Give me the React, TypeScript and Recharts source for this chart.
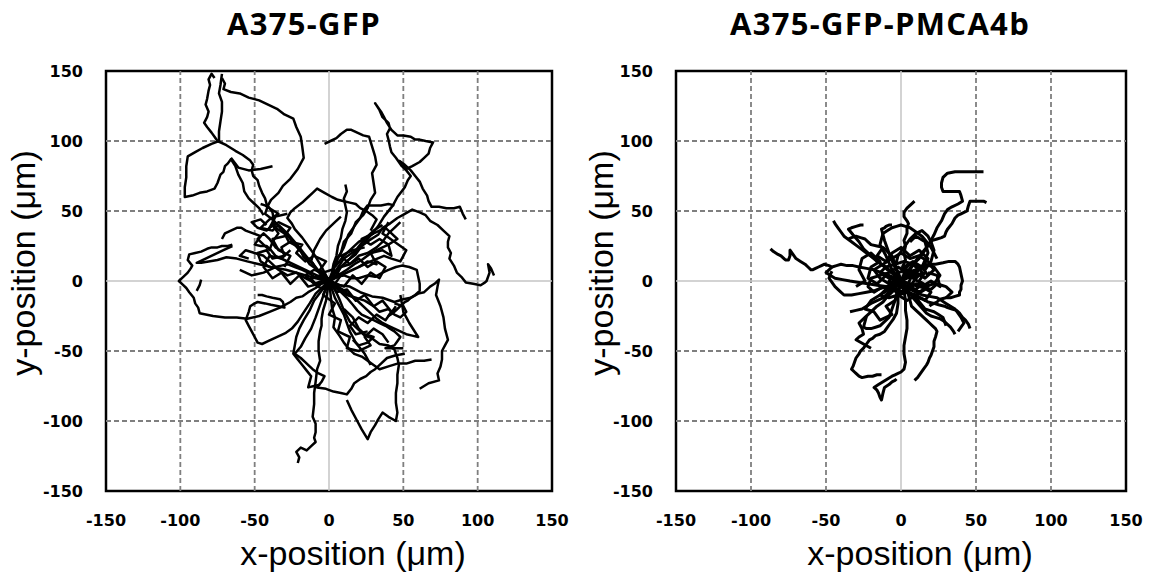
import React from 'react';
import { LineChart, Line, XAxis, YAxis, ReferenceLine, ReferenceArea } from 'recharts';

type Pt = [number, number];

const axisTicks = [-150, -100, -50, 0, 50, 100, 150];
const gridTicks = [-100, -50, 50, 100];
const panelTitles = ['A375-GFP', 'A375-GFP-PMCA4b'];
const xLabel = 'x-position (μm)';
const yLabel = 'y-position (μm)';

// A375-GFP tracks (x, y in µm)
const gfp01: Pt[] = [[0,0],[-3,5],[-8,7],[-11,13],[-17,17],[-20,24],[-27,28],[-30,34],[-36,38],[-38,44],[-43,48],[-41,54],[-39,58],[-34,63],[-31,68],[-26,73],[-21,80],[-17,88],[-18,96],[-19,103],[-22,110],[-24,116],[-30,119],[-35,123],[-41,126],[-47,129],[-54,131],[-60,134],[-66,135],[-71,137],[-70,141],[-72,145]];
const gfp02: Pt[] = [[-44,47],[-47,52],[-50,55],[-54,59],[-57,64],[-58,70],[-61,76],[-63,82],[-66,87],[-68,84],[-70,82],[-71,78],[-73,76],[-75,70],[-77,66],[-82,64],[-87,63],[-92,61],[-97,60],[-97,67],[-96,74],[-96,82],[-95,89],[-90,92],[-85,95],[-79,98],[-74,100],[-74,107],[-73,114],[-72,121],[-72,128],[-74,134],[-73,140],[-72,148]];
const gfp03: Pt[] = [[0,0],[-4,3],[-9,9],[-13,12],[-19,21],[-23,26],[-29,34],[-33,38],[-37,43],[-38,49],[-42,55],[-43,59],[-45,63],[-47,68],[-48,72],[-51,75],[-52,79],[-51,83],[-53,86],[-58,90],[-63,93],[-69,97],[-75,100],[-77,103],[-79,106],[-82,110],[-84,113],[-82,117],[-81,121],[-83,126],[-82,130],[-81,136],[-80,140],[-81,144],[-79,148],[-77,145]];
const gfp04: Pt[] = [[-66,88],[-61,81],[-54,79],[-46,80],[-38,82]];
const gfp05: Pt[] = [[0,0],[3,6],[4,14],[8,20],[10,28],[15,34],[18,42],[23,47],[26,52],[28,58],[31,63],[30,70],[29,77],[32,83],[31,89],[29,96],[27,103],[23,104],[19,106],[15,108],[12,108],[8,105],[5,102],[1,100],[-3,98]];
const gfp06: Pt[] = [[0,0],[4,6],[9,11],[14,16],[21,24],[26,30],[33,39],[37,46],[43,54],[46,60],[51,67],[53,72],[55,75],[52,79],[49,82],[47,85],[45,88],[42,92],[41,96],[40,101],[39,105],[41,109],[40,113],[36,117],[34,122],[31,127],[33,124],[35,121],[37,117],[39,113],[42,108],[46,104],[50,104],[55,103],[58,101],[61,101],[65,100],[70,99],[68,95],[67,91],[64,88],[61,85],[56,82],[52,80],[49,83],[47,86]];
const gfp07: Pt[] = [[47,86],[51,83],[55,79],[58,75],[61,71],[63,66],[66,61],[67,57],[69,53],[74,53],[79,52],[84,52],[88,53],[90,48],[92,44]];
const gfp08: Pt[] = [[0,0],[5,4],[8,10],[13,15],[18,19],[22,25],[27,29],[33,33],[36,38],[41,41],[46,45],[51,48],[56,51],[61,49],[65,47],[68,43],[73,40],[77,36],[81,32],[80,28],[80,24],[82,20],[81,16],[84,11],[86,6],[89,3],[92,-1],[97,-2],[102,-3],[105,-1],[106,0],[108,6],[107,12],[109,9],[111,4]];
const gfp09: Pt[] = [[0,0],[-1,-7],[-2,-14],[-4,-21],[-5,-27],[-5,-32],[-6,-36],[-7,-43],[-7,-50],[-6,-57],[-8,-63],[-9,-72],[-10,-80],[-10,-88],[-11,-97],[-9,-102],[-9,-108],[-10,-112],[-9,-115],[-12,-118],[-15,-121],[-19,-119],[-22,-122],[-20,-126],[-21,-130]];
const gfp10: Pt[] = [[0,0],[4,-6],[7,-13],[10,-21],[14,-29],[18,-33],[24,-39],[29,-41],[34,-45],[40,-46],[44,-49],[46,-55],[47,-60],[46,-67],[46,-73],[45,-80],[45,-87],[46,-94],[45,-100],[40,-97],[36,-94],[33,-99],[31,-103],[28,-108],[26,-113],[22,-106],[19,-100],[15,-92],[12,-85]];
const gfp11: Pt[] = [[0,0],[7,-3],[14,-4],[21,-8],[29,-11],[36,-12],[44,-15],[50,-13],[55,-12],[60,-9],[64,-8],[68,-4],[71,-2],[74,1],[73,-4],[72,-10],[75,-18],[77,-26],[78,-34],[80,-42],[78,-46],[76,-50],[76,-56],[75,-61],[73,-66],[74,-71],[67,-73],[61,-77]];
const gfp12: Pt[] = [[0,0],[1,-9],[2,-19],[4,-26],[3,-33],[7,-39],[10,-44],[13,-48],[17,-52],[22,-54],[26,-57],[30,-60],[34,-63],[40,-61],[46,-59],[52,-59],[58,-57],[64,-57],[69,-56]];
const gfp13: Pt[] = [[0,0],[-5,-2],[-9,-5],[-14,-8],[-18,-11],[-22,-12],[-26,-15],[-33,-19],[-40,-22],[-47,-25],[-55,-27],[-62,-26],[-70,-26],[-78,-25],[-87,-23],[-88,-19],[-90,-16],[-91,-12],[-94,-8],[-96,-5],[-98,-3],[-101,0],[-98,3],[-95,6],[-93,9],[-92,11],[-95,15],[-94,19],[-90,20],[-86,21],[-82,23],[-79,24],[-75,24],[-72,25],[-68,25],[-65,26]];
const gfp14: Pt[] = [[-86,1],[-87,-3],[-89,-7]];
const gfp15: Pt[] = [[0,0],[-4,-4],[-9,-9],[-13,-16],[-18,-24],[-21,-29],[-25,-34],[-29,-37],[-33,-39],[-37,-41],[-41,-43],[-45,-45],[-48,-44],[-50,-40],[-52,-36],[-54,-32],[-56,-28],[-54,-22],[-53,-18],[-50,-16],[-48,-15],[-43,-16],[-39,-17],[-34,-18],[-30,-19],[-31,-15],[-33,-13],[-38,-12],[-42,-11],[-45,-10],[-48,-10]];
const gfp16: Pt[] = [[0,0],[-3,-8],[-6,-17],[-9,-26],[-12,-34],[-16,-41],[-19,-47],[-23,-52],[-19,-55],[-16,-58],[-13,-61],[-11,-63],[-7,-66],[-3,-68],[-5,-72],[-8,-76],[-2,-77],[3,-79],[8,-80],[12,-81],[15,-77],[17,-73],[21,-70],[25,-68],[28,-65],[31,-63],[35,-59],[39,-55],[45,-53],[51,-52]];
const gfp17: Pt[] = [[0,0],[2,6],[3,12],[5,18],[6,25],[8,31],[9,37],[11,43],[12,49],[11,54],[10,59],[12,64],[11,69]];
const gfp18: Pt[] = [[0,0],[3,8],[6,16],[10,24],[13,33],[17,39],[21,45],[23,50],[26,54],[31,54],[35,54],[40,55],[44,54]];
const gfp19: Pt[] = [[0,0],[-3,6],[-6,12],[-10,19],[-14,25],[-18,31],[-23,37],[-25,41],[-28,45],[-26,49],[-23,52],[-18,56],[-14,60],[-11,63],[-8,66],[-3,63],[2,60],[6,58],[10,57],[14,56],[18,55],[21,52],[25,50],[29,47],[32,44],[30,40],[28,36]];
const gfp20: Pt[] = [[0,0],[-6,3],[-12,6],[-18,9],[-24,12],[-30,15],[-36,18],[-39,22],[-42,25],[-46,25],[-50,26],[-48,29],[-46,32],[-51,34],[-56,36],[-59,38],[-62,38],[-66,36],[-70,34],[-72,30]];
const gfp21: Pt[] = [[0,0],[-9,2],[-19,5],[-29,8],[-39,10],[-47,12],[-55,14],[-62,16],[-69,17],[-75,15],[-81,14],[-86,13],[-89,13],[-83,16],[-77,19],[-71,22],[-65,25]];
const gfp22: Pt[] = [[0,0],[5,3],[10,4],[15,2],[20,2],[26,4],[31,3],[36,6],[40,8],[45,10],[49,11],[54,10],[59,8],[60,3],[61,-2],[61,-7],[58,-10],[55,-12],[53,-14],[51,-15],[48,-18],[46,-20],[43,-23],[40,-25],[43,-21],[45,-18]];
const gfp23: Pt[] = [[0,0],[4,-4],[8,-8],[12,-12],[16,-17],[19,-21],[22,-24],[26,-26],[30,-28],[34,-30],[38,-32],[41,-34],[44,-36],[46,-38],[48,-40],[46,-43],[44,-46],[41,-47],[38,-48],[44,-48],[50,-48]];
const gfp24: Pt[] = [[0,0],[-4,4],[-8,8],[-11,12],[-14,16],[-17,20],[-20,24],[-24,29],[-28,34],[-31,37],[-34,40],[-36,38],[-38,36],[-42,37],[-46,38],[-43,41],[-40,44],[-37,46],[-34,48],[-37,50],[-40,52],[-43,54],[-46,55]];
const gfp25: Pt[] = [[0,0],[6,4],[12,8],[17,12],[22,15],[27,19],[32,22],[36,24],[40,26],[43,28],[46,30],[42,34],[38,38],[34,36],[30,34],[25,31],[20,28],[15,23],[10,18],[7,14],[4,10]];
const gfp26: Pt[] = [[0,0],[-5,-7],[-10,-14],[-13,-21],[-17,-28],[-20,-34],[-22,-40],[-23,-46],[-24,-52],[-21,-56],[-18,-60],[-15,-64],[-12,-68],[-13,-72],[-14,-76],[-10,-75],[-6,-74]];
const gfp27: Pt[] = [[0,0],[7,-5],[14,-10],[20,-15],[26,-21],[31,-26],[36,-30],[40,-32],[44,-34],[48,-36],[52,-38],[56,-39],[60,-40],[57,-35],[54,-30],[52,-26],[50,-22],[49,-16],[48,-10]];
const gfp28: Pt[] = [[0,0],[10,5],[20,10],[28,14],[37,18],[42,16],[48,14],[50,18],[52,22],[48,25],[44,28],[40,31],[36,34],[38,38],[40,42]];
const gfp29: Pt[] = [[0,0],[-5,2],[-10,3],[-14,6],[-18,8],[-23,10],[-28,12],[-32,11],[-36,10],[-40,8],[-44,6],[-48,5],[-52,4],[-56,6],[-60,8]];
const gfp30: Pt[] = [[0,0],[5,8],[10,16],[14,19],[18,22],[21,26],[24,30],[27,33],[30,36],[33,38],[36,40]];
const gfp31: Pt[] = [[0,0],[2,-6],[4,-12],[7,-18],[10,-24],[12,-30],[14,-36],[16,-40],[18,-44],[21,-48],[24,-52],[26,-56],[28,-60]];
const gfp32: Pt[] = [[0,0],[-3,3],[-6,6],[-9,10],[-12,14],[-11,18],[-10,22],[-8,26],[-6,30],[-4,33],[-2,36],[1,39],[4,42],[6,44],[8,46]];
const gfp33: Pt[] = [[0,0],[-6,4],[-12,2],[-8,-4],[-2,-6],[4,-2],[8,4],[2,8],[-4,6],[-10,8],[-16,4],[-10,-2],[0,2],[6,-4],[12,-8]];
const gfp34: Pt[] = [[-30,20],[-36,24],[-40,30],[-44,34],[-48,30],[-44,26],[-40,22],[-38,28],[-34,34],[-38,40],[-42,36],[-48,38],[-52,42],[-46,44],[-42,40]];
const gfp35: Pt[] = [[0,0],[-8,-2],[-16,2],[-22,6],[-28,4],[-34,8],[-40,14],[-44,18],[-50,20],[-56,22],[-60,18],[-54,16]];
const gfp36: Pt[] = [[0,0],[6,-6],[12,-10],[18,-12],[24,-14],[30,-18],[34,-22],[40,-20],[44,-24],[48,-26],[52,-22],[50,-18],[44,-16]];
const gfp37: Pt[] = [[10,-20],[16,-26],[20,-34],[24,-38],[30,-40],[26,-44],[20,-46],[16,-42]];
const gfp38: Pt[] = [[0,0],[8,10],[14,12],[20,18],[26,20],[32,24],[36,28],[40,34],[44,38],[48,42]];
const gfp39: Pt[] = [[0,0],[5,-8],[12,-6],[18,-14],[24,-10],[30,-18],[36,-14],[42,-22],[38,-28],[32,-24],[26,-30],[20,-26],[14,-32],[18,-38],[26,-36]];
const gfp40: Pt[] = [[0,0],[-6,8],[-2,14],[-10,18],[-16,14],[-22,20],[-18,26],[-26,28],[-32,24],[-30,18],[-38,16],[-42,22],[-48,20],[-46,14],[-40,10]];
const gfp41: Pt[] = [[0,0],[10,-4],[16,4],[22,-2],[28,6],[34,2],[38,10],[32,14],[26,10],[20,16],[14,12],[8,18],[16,22],[24,24]];
const gfp42: Pt[] = [[0,0],[-4,-10],[4,-16],[0,-24],[8,-28],[6,-36],[14,-40],[12,-48],[20,-50],[28,-46],[24,-40],[30,-34],[36,-38],[40,-44]];
const gfp43: Pt[] = [[20,10],[26,14],[32,12],[28,20],[36,22],[42,18],[40,26],[34,30],[28,26],[22,30],[30,34]];
const gfp44: Pt[] = [[-30,10],[-26,18],[-34,22],[-38,30],[-30,32],[-26,38],[-34,42],[-40,38],[-36,46],[-28,48]];
const gfp45: Pt[] = [[0,0],[-14,-4],[-20,4],[-26,-2],[-32,6],[-38,2],[-44,10],[-40,18],[-32,16],[-26,22]];

// A375-GFP-PMCA4b tracks
const pmca01: Pt[] = [[0,0],[3,4],[6,8],[9,13],[12,16],[16,22],[19,27],[21,29],[24,30],[27,31],[29,32],[30,35],[31,37],[34,41],[36,45],[38,47],[40,48],[42,49],[44,50],[45,54],[46,57],[50,57],[55,57],[57,56]];
const pmca02: Pt[] = [[0,0],[4,6],[8,12],[11,16],[14,20],[17,24],[19,27],[22,33],[24,38],[27,43],[29,48],[31,51],[34,53],[38,55],[41,57],[40,61],[39,64],[34,64],[28,64],[27,67],[27,70],[28,74],[31,77],[36,78],[40,78],[44,78],[48,78],[52,78],[55,78]];
const pmca03: Pt[] = [[0,0],[2,5],[1,10],[3,15],[2,20],[3,25],[2,29],[4,34],[4,38],[5,41],[4,43],[2,46],[2,49],[4,52],[6,54],[8,56],[9,57]];
const pmca04: Pt[] = [[0,0],[-4,2],[-8,4],[-13,6],[-18,8],[-23,9],[-28,10],[-32,11],[-36,11],[-40,12],[-43,11],[-46,10],[-48,11],[-51,12],[-53,11],[-55,10],[-57,9],[-59,8],[-60,8],[-62,10],[-64,12],[-67,14],[-70,16],[-72,19],[-74,22],[-74,18],[-75,15],[-77,15],[-78,16],[-80,18],[-82,19],[-85,21],[-87,23]];
const pmca05: Pt[] = [[0,0],[-1,-5],[-2,-10],[-2,-16],[-3,-23],[-5,-27],[-7,-30],[-9,-33],[-11,-36],[-14,-38],[-17,-39],[-19,-41],[-21,-42],[-23,-45],[-25,-48],[-27,-50],[-28,-52],[-30,-55],[-31,-58],[-32,-61],[-33,-63],[-31,-65],[-30,-66],[-28,-68],[-26,-69],[-22,-68],[-19,-68],[-16,-67],[-13,-67]];
const pmca06: Pt[] = [[0,0],[2,-7],[3,-14],[3,-21],[4,-28],[4,-34],[3,-40],[2,-46],[2,-52],[3,-58],[2,-63],[0,-65],[-2,-66],[-4,-67],[-6,-68],[-9,-70],[-12,-72],[-15,-74],[-18,-76],[-16,-78],[-15,-80],[-14,-83],[-13,-85],[-12,-80],[-11,-76],[-8,-74],[-6,-72],[-4,-71],[-3,-70]];
const pmca07: Pt[] = [[0,0],[3,-5],[5,-10],[6,-14],[7,-18],[10,-21],[12,-23],[15,-26],[17,-28],[19,-30],[21,-32],[23,-34],[24,-36],[23,-40],[22,-43],[22,-47],[21,-50],[20,-53],[19,-55],[18,-58],[17,-60],[15,-63],[13,-66],[11,-69],[9,-71]];
const pmca08: Pt[] = [[0,0],[4,3],[8,6],[13,9],[19,12],[23,12],[28,13],[32,14],[36,14],[38,12],[39,10],[40,5],[41,0],[40,-3],[40,-6],[39,-8],[39,-10],[36,-11],[33,-12],[30,-12],[26,-13],[24,-15],[22,-16],[20,-17],[19,-18]];
const pmca09: Pt[] = [[0,0],[3,-5],[7,-10],[11,-12],[15,-13],[18,-15],[22,-16],[25,-17],[29,-18],[31,-19],[34,-20],[37,-21],[39,-23],[41,-26],[43,-28],[45,-31],[46,-34]];
const pmca10: Pt[] = [[0,0],[4,-6],[8,-12],[12,-17],[17,-23],[20,-25],[23,-26],[26,-27],[29,-29],[31,-31],[33,-33],[35,-36],[36,-38]];
const pmca11: Pt[] = [[0,0],[-4,4],[-9,8],[-13,12],[-18,16],[-23,20],[-28,24],[-33,28],[-38,32],[-40,35],[-42,38],[-44,41],[-45,43]];
const pmca12: Pt[] = [[0,0],[-5,5],[-10,10],[-16,14],[-21,19],[-25,23],[-28,28],[-32,33],[-35,37],[-33,38],[-30,39],[-27,40],[-25,40]];
const pmca13: Pt[] = [[0,0],[-2,6],[-5,12],[-8,20],[-11,29],[-12,33],[-13,37],[-11,38],[-10,39],[-8,40],[-6,40]];
const pmca14: Pt[] = [[0,0],[-4,-2],[-8,-4],[-13,-5],[-18,-7],[-23,-8],[-28,-9],[-33,-10],[-38,-10],[-41,-7],[-44,-4],[-46,-1],[-48,2],[-47,5],[-46,7]];
const pmca15: Pt[] = [[0,0],[-3,-4],[-6,-8],[-9,-11],[-12,-15],[-16,-18],[-20,-22],[-24,-26],[-28,-30],[-26,-34],[-25,-38],[-28,-40],[-30,-42],[-25,-45],[-20,-48]];
const pmca16: Pt[] = [[0,0],[-2,-7],[-4,-14],[-6,-20],[-8,-26],[-11,-29],[-14,-32],[-17,-33],[-20,-34],[-23,-34],[-25,-33],[-24,-29],[-23,-25]];
const pmca17: Pt[] = [[0,0],[3,-3],[6,-6],[10,-8],[14,-10],[19,-11],[24,-12],[27,-14],[30,-16],[33,-18],[36,-20],[38,-23],[40,-26],[41,-28],[42,-30],[40,-33],[38,-36]];
const pmca18: Pt[] = [[0,0],[-3,4],[-6,8],[-8,13],[-10,18],[-12,22],[-14,26],[-13,30],[-12,34],[-9,36],[-6,38],[-3,39],[0,40],[3,39],[6,38],[10,35],[14,32],[17,28],[20,24],[22,20],[24,16]];
const pmca19: Pt[] = [[0,0],[-5,-2],[-10,-4],[-16,-3],[-22,-2],[-28,-1],[-34,0],[-39,1],[-44,2],[-47,4],[-50,6],[-48,8],[-46,10]];
const pmca20: Pt[] = [[0,0],[4,2],[8,4],[11,7],[14,10],[16,15],[18,20],[17,24],[16,28],[13,30],[10,32],[8,30],[6,28]];
const pmca21: Pt[] = [[0,0],[-6,-6],[-12,-12],[-16,-14],[-20,-16],[-23,-18],[-26,-20],[-30,-21],[-34,-22]];
const pmca22: Pt[] = [[0,0],[6,-2],[12,-4],[16,-5],[20,-6],[22,-4],[24,-2],[27,-3],[30,-4],[32,-6],[34,-8],[32,-10],[30,-12]];
const pmca23: Pt[] = [[0,0],[-3,9],[-6,18],[-9,21],[-12,24],[-16,25],[-20,26],[-22,28],[-24,30],[-27,31],[-30,32],[-33,31],[-35,30]];
const pmca24: Pt[] = [[0,0],[2,-4],[4,-8],[7,-10],[10,-12],[13,-16],[16,-20],[19,-21],[22,-22],[25,-24],[28,-26],[29,-29],[30,-32]];
const pmca25: Pt[] = [[0,0],[5,4],[10,2],[14,6],[12,10],[6,12],[2,8],[8,2],[14,-2],[10,-6],[4,-4],[8,6],[14,10],[18,4]];
const pmca26: Pt[] = [[0,0],[-4,4],[-8,0],[-4,-6],[2,-8],[6,-4],[10,2],[4,8],[-2,6],[-6,2],[0,-4],[6,-10]];
const pmca27: Pt[] = [[0,0],[-8,2],[-14,6],[-10,10],[-4,12],[2,14],[8,12],[12,8],[8,4],[2,2],[-4,-2],[-10,-6],[-14,-10],[-8,-12],[-2,-10],[4,-8],[10,-10],[16,-6],[12,-2]];
const pmca28: Pt[] = [[0,0],[10,6],[16,2],[22,8],[18,14],[12,18],[6,16],[0,20],[-6,16],[-12,12],[-18,8],[-14,2],[-8,-2],[-2,2]];
const pmca29: Pt[] = [[0,0],[-6,-6],[-12,-4],[-18,-8],[-22,-4],[-20,2],[-14,4],[-8,6],[-2,10],[4,6],[10,8],[16,12],[22,10],[26,4],[22,-2],[16,-4],[10,-2],[4,-6]];
const pmca30: Pt[] = [[0,0],[-4,10],[-2,18],[2,24],[6,30],[10,34],[14,36],[18,32],[20,28],[22,22],[20,14],[16,8]];
const pmca31: Pt[] = [[0,0],[6,4],[2,10],[8,14],[14,10],[18,16],[12,22],[6,18],[0,24],[-6,20],[-10,14],[-16,18],[-12,24]];
const pmca32: Pt[] = [[0,0],[-6,-4],[-2,-10],[4,-14],[10,-10],[16,-14],[20,-8],[14,-4],[20,0],[26,-4],[24,4],[18,6]];
const pmca33: Pt[] = [[0,0],[-10,4],[-16,-2],[-22,2],[-20,10],[-14,14],[-20,20],[-26,16],[-28,8],[-24,0],[-30,-4]];
const pmca34: Pt[] = [[0,0],[6,8],[10,4],[16,6],[12,0],[18,-4],[12,-8],[6,-4],[0,-8],[-6,-4],[-2,2],[4,2]];
const pmca35: Pt[] = [[0,0],[-4,-14],[-10,-18],[-6,-24],[-14,-28],[-18,-22],[-24,-20],[-20,-14],[-14,-10],[-8,-6]];

const gfpTracks = [gfp01, gfp02, gfp03, gfp04, gfp05, gfp06, gfp07, gfp08, gfp09, gfp10, gfp11, gfp12, gfp13, gfp14, gfp15, gfp16, gfp17, gfp18, gfp19, gfp20, gfp21, gfp22, gfp23, gfp24, gfp25, gfp26, gfp27, gfp28, gfp29, gfp30, gfp31, gfp32, gfp33, gfp34, gfp35, gfp36, gfp37, gfp38, gfp39, gfp40, gfp41, gfp42, gfp43, gfp44, gfp45];
const pmcaTracks = [pmca01, pmca02, pmca03, pmca04, pmca05, pmca06, pmca07, pmca08, pmca09, pmca10, pmca11, pmca12, pmca13, pmca14, pmca15, pmca16, pmca17, pmca18, pmca19, pmca20, pmca21, pmca22, pmca23, pmca24, pmca25, pmca26, pmca27, pmca28, pmca29, pmca30, pmca31, pmca32, pmca33, pmca34, pmca35];

const toRows = (t: Pt[]) => t.map(([x, y]) => ({ x, y }));

const tickStyle = { fontSize: 16, fontWeight: 700, fill: '#000', fontFamily: 'DejaVu Sans' };

interface PanelProps {
  tracks: Pt[][];
  width: number;
  margin: { top: number; right: number; bottom: number; left: number };
  strokeWidth: number;
}

const TrackPanel: React.FC<PanelProps> = ({ tracks, width, margin, strokeWidth }) => (
  <LineChart width={width} height={577} margin={margin}>
    <XAxis
      type="number"
      dataKey="x"
      domain={[-150, 150]}
      ticks={axisTicks}
      interval={0}
      allowDataOverflow
      axisLine={false}
      tickLine={false}
      tickSize={0}
      tickMargin={24}
      height={30}
      tick={tickStyle}
    />
    <YAxis
      type="number"
      dataKey="y"
      domain={[-150, 150]}
      ticks={axisTicks}
      interval={0}
      allowDataOverflow
      axisLine={false}
      tickLine={false}
      tickSize={0}
      tickMargin={23}
      width={60}
      tick={tickStyle}
    />
    {gridTicks.map(v => (
      <ReferenceLine key={'gx' + v} x={v} stroke="#7f7f7f" strokeDasharray="5 3" strokeWidth={1.8} />
    ))}
    {gridTicks.map(v => (
      <ReferenceLine key={'gy' + v} y={v} stroke="#7f7f7f" strokeDasharray="5 3" strokeWidth={1.8} />
    ))}
    <ReferenceLine x={0} stroke="#c4c4c4" strokeWidth={1.5} />
    <ReferenceLine y={0} stroke="#c4c4c4" strokeWidth={1.5} />
    {tracks.map((t, i) => (
      <Line
        key={i}
        data={toRows(t)}
        dataKey="y"
        stroke="#000"
        strokeWidth={strokeWidth}
        strokeLinejoin="round"
        dot={false}
        activeDot={false}
        isAnimationActive={false}
      />
    ))}
    <ReferenceArea x1={-150} x2={150} y1={-150} y2={150} fill="none" fillOpacity={0} stroke="#000" strokeWidth={2.5} />
  </LineChart>
);

const titleStyle = { fontFamily: 'Open Sans', fontWeight: 700, fontSize: 31, letterSpacing: 1.3 };
const labelStyle = { fontFamily: 'Liberation Sans', fontSize: 34 };

export default function App() {
  return (
    <div style={{ position: 'absolute', left: 0, top: 0, width: 1155, height: 577, background: '#fff' }}>
      <div style={{ position: 'absolute', left: 0, top: 0 }}>
        <TrackPanel tracks={gfpTracks} width={580} margin={{ top: 71, right: 28, bottom: 56, left: 46 }} strokeWidth={2.5} />
      </div>
      <div style={{ position: 'absolute', left: 580, top: 0 }}>
        <TrackPanel tracks={pmcaTracks} width={575} margin={{ top: 71, right: 29, bottom: 56, left: 36 }} strokeWidth={3} />
      </div>
      <svg width={1155} height={577} style={{ position: 'absolute', left: 0, top: 0, pointerEvents: 'none' }}>
        <text x={304} y={35} textAnchor="middle" style={titleStyle}>{panelTitles[0]}</text>
        <text x={880} y={35} textAnchor="middle" style={titleStyle}>{panelTitles[1]}</text>
        <text x={353} y={565} textAnchor="middle" style={labelStyle}>{xLabel}</text>
        <text x={920} y={565} textAnchor="middle" style={labelStyle}>{xLabel}</text>
        <text transform="translate(35,263) rotate(-90)" textAnchor="middle" style={labelStyle}>{yLabel}</text>
        <text transform="translate(613,263) rotate(-90)" textAnchor="middle" style={labelStyle}>{yLabel}</text>
      </svg>
    </div>
  );
}
